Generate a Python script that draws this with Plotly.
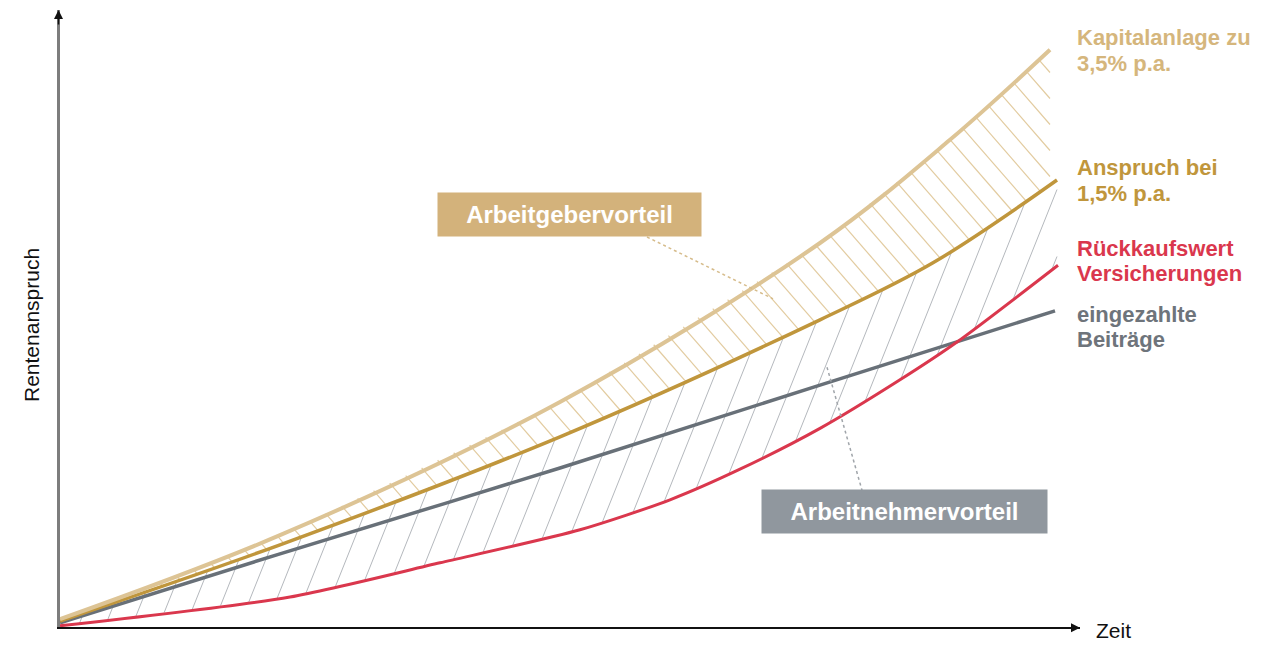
import numpy as np
import plotly.graph_objects as go

# ---------------- data (arbitrary units) ----------------
x_kapital = [0, 22, 50, 76, 89, 99]
y_kapital = [1.3, 15.3, 37.5, 64.0, 81.2, 96.2]

x_anspruch = [0, 22, 50, 76, 87.3, 99.7]
y_anspruch = [1.0, 13.7, 31.7, 51.2, 60.7, 74.5]

x_beitraege = [0, 22, 50, 76, 99.5]
y_beitraege = [0.7, 12.2, 26.5, 40.3, 52.7]

x_rueckkauf = [0, 23, 38, 52, 61, 68, 76, 84, 89.7, 99.8]
y_rueckkauf = [0.2, 5.0, 10.7, 16.2, 21.2, 26.3, 33.1, 41.2, 47.5, 60.3]

label_kapital = ["Kapitalanlage zu", "3,5% p.a."]
label_anspruch = ["Anspruch bei", "1,5% p.a."]
label_rueckkauf = ["Rückkaufswert", "Versicherungen"]
label_beitraege = ["eingezahlte", "Beiträge"]
box_arbeitgeber = "Arbeitgebervorteil"
box_arbeitnehmer = "Arbeitnehmervorteil"
axis_x_title = "Zeit"
axis_y_title = "Rentenanspruch"

# ---------------- layout geometry ----------------
OFF = 8  # page body margin
W, H = 1280 - OFF, 650 - OFF
PLOT_L, PLOT_R, PLOT_T, PLOT_B = 60, 1080, 10, 627   # in page pixels
ML = PLOT_L - OFF
MT = PLOT_T - OFF
MR = W - (PLOT_R - OFF)
MB = H - (PLOT_B - OFF)
PW, PH = PLOT_R - PLOT_L, PLOT_B - PLOT_T
XR = [0, PW / 10.0]
YR = [0, PH / 6.0]
SX, SY = PW / (XR[1] - XR[0]), PH / (YR[1] - YR[0])

C_KAP_LINE = "#ddc495"
C_KAP_TEXT = "#d5b67c"
C_ANS = "#c0963c"
C_RED = "#da374d"
C_GRAY = "#687078"
C_HATCH_GOLD = "#e2cb9f"
C_HATCH_GRAY = "#b4b8bd"
FONT = "Liberation Sans, Arial, Helvetica, sans-serif"


def pxx(xp):
    return (xp - PLOT_L) / PW


def pxy(yp):
    return (PLOT_B - yp) / PH


def hatch(xt, yt, xb, yb, slope, step, phase=0.0):
    """Hatch lines (screen slope 'slope') clipped between top and bottom curve."""
    xmax = min(xt[-1], xb[-1])
    X = np.linspace(0, xmax * SX, 8000)
    Yt = np.interp(X, np.array(xt) * SX, np.array(yt) * SY)
    Yb = np.interp(X, np.array(xb) * SX, np.array(yb) * SY)
    hx, hy = [], []
    for k in np.arange(-5000, 5000, step) + phase:
        Yl = slope * X - k
        m = (Yl >= Yb) & (Yl <= Yt)
        idx = np.flatnonzero(m)
        if idx.size < 2:
            continue
        i0, i1 = idx[0], idx[-1]
        if np.hypot(X[i1] - X[i0], Yl[i1] - Yl[i0]) < 3:
            continue
        hx += [X[i0] / SX, X[i1] / SX, None]
        hy += [Yl[i0] / SY, Yl[i1] / SY, None]
    return hx, hy


fig = go.Figure()

# gray hatch: between Anspruch and Rückkaufswert
gx, gy = hatch(x_anspruch, y_anspruch, x_rueckkauf, y_rueckkauf, 2.5, 67, 20)
fig.add_trace(go.Scatter(x=gx, y=gy, mode="lines", line=dict(color=C_HATCH_GRAY, width=1),
                         hoverinfo="skip"))
# gold hatch: between Kapitalanlage and Anspruch
hx, hy = hatch(x_kapital, y_kapital, x_anspruch, y_anspruch, -1.15, 26, 5)
fig.add_trace(go.Scatter(x=hx, y=hy, mode="lines", line=dict(color=C_HATCH_GOLD, width=1.2),
                         hoverinfo="skip"))

fig.add_trace(go.Scatter(x=x_beitraege, y=y_beitraege, mode="lines",
                         line=dict(color=C_GRAY, width=3.5, shape="spline")))
fig.add_trace(go.Scatter(x=x_rueckkauf, y=y_rueckkauf, mode="lines",
                         line=dict(color=C_RED, width=3, shape="spline", smoothing=0.7)))
fig.add_trace(go.Scatter(x=x_anspruch, y=y_anspruch, mode="lines",
                         line=dict(color=C_ANS, width=3.5, shape="spline")))
fig.add_trace(go.Scatter(x=x_kapital, y=y_kapital, mode="lines",
                         line=dict(color=C_KAP_LINE, width=4, shape="spline")))

ann = []
# axis arrow heads (paper referenced so they are never hidden)
ann.append(dict(x=pxx(58.5), y=1.0, xref="paper", yref="paper", ax=0, ay=16,
                text="", showarrow=True, arrowhead=2, arrowsize=1.2, arrowwidth=1.5,
                arrowcolor="#111111", standoff=0))
ann.append(dict(x=1.0, y=pxy(627.75), xref="paper", yref="paper", ax=-16, ay=0,
                text="", showarrow=True, arrowhead=2, arrowsize=1.2, arrowwidth=1.5,
                arrowcolor="#111111", standoff=0))
# axis titles
ann.append(dict(x=pxx(1094), y=pxy(630), xref="paper", yref="paper", xanchor="left", yanchor="middle",
                text=axis_x_title, showarrow=False, font=dict(family=FONT, size=21, color="#111111")))
ann.append(dict(x=pxx(31), y=pxy(325), xref="paper", yref="paper", xanchor="center", yanchor="middle",
                text=axis_y_title, textangle=-90, showarrow=False,
                font=dict(family=FONT, size=21, color="#111111")))


# right-hand series labels
def add_label(lines, ys, color):
    for t, yy in zip(lines, ys):
        ann.append(dict(x=pxx(1075), y=pxy(yy), xref="paper", yref="paper", xanchor="left",
                        yanchor="middle", text="<b>" + t + "</b>", showarrow=False,
                        font=dict(family=FONT, size=22, color=color)))


add_label(label_kapital, [38, 63.5], C_KAP_TEXT)
add_label(label_anspruch, [167.5, 193], C_ANS)
add_label(label_rueckkauf, [248, 273], C_RED)
add_label(label_beitraege, [314, 339], "#6e747b")

# boxes
ann.append(dict(x=pxx(569.5), y=pxy(214.5), xref="paper", yref="paper", xanchor="center",
                yanchor="middle", text="<b>" + box_arbeitgeber + "</b>", showarrow=False,
                width=263, height=43, bgcolor="#d3b27b", borderpad=0, align="center", valign="middle",
                font=dict(family=FONT, size=24, color="white")))
ann.append(dict(x=pxx(904.5), y=pxy(511.5), xref="paper", yref="paper", xanchor="center",
                yanchor="middle", text="<b>" + box_arbeitnehmer + "</b>", showarrow=False,
                width=285, height=43, bgcolor="#90979e", borderpad=0, align="center", valign="middle",
                font=dict(family=FONT, size=24, color="white")))

shapes = [
    dict(type="line", xref="x", yref="y", x0=58.7, y0=65.0, x1=71.3, y1=54.7,
         line=dict(color="#d6bc8b", width=1.5, dash="dot")),
    dict(type="line", xref="x", yref="y", x0=76.7, y0=43.3, x1=80.2, y1=22.8,
         line=dict(color="#a0a5aa", width=1.5, dash="dot")),
]

fig.update_layout(
    width=W, height=H, autosize=False,
    margin=dict(l=ML, r=MR, t=MT, b=MB, pad=0),
    paper_bgcolor="white", plot_bgcolor="white",
    showlegend=False,
    annotations=ann, shapes=shapes,
    xaxis=dict(range=XR, showgrid=False, zeroline=False, showticklabels=False, ticks="",
               showline=True, linecolor="#111111", linewidth=1.5, fixedrange=True),
    yaxis=dict(range=YR, showgrid=False, zeroline=False, showticklabels=False, ticks="",
               showline=True, linecolor="#7d7d7d", linewidth=3, fixedrange=True),
)

fig.write_html("out.html")
